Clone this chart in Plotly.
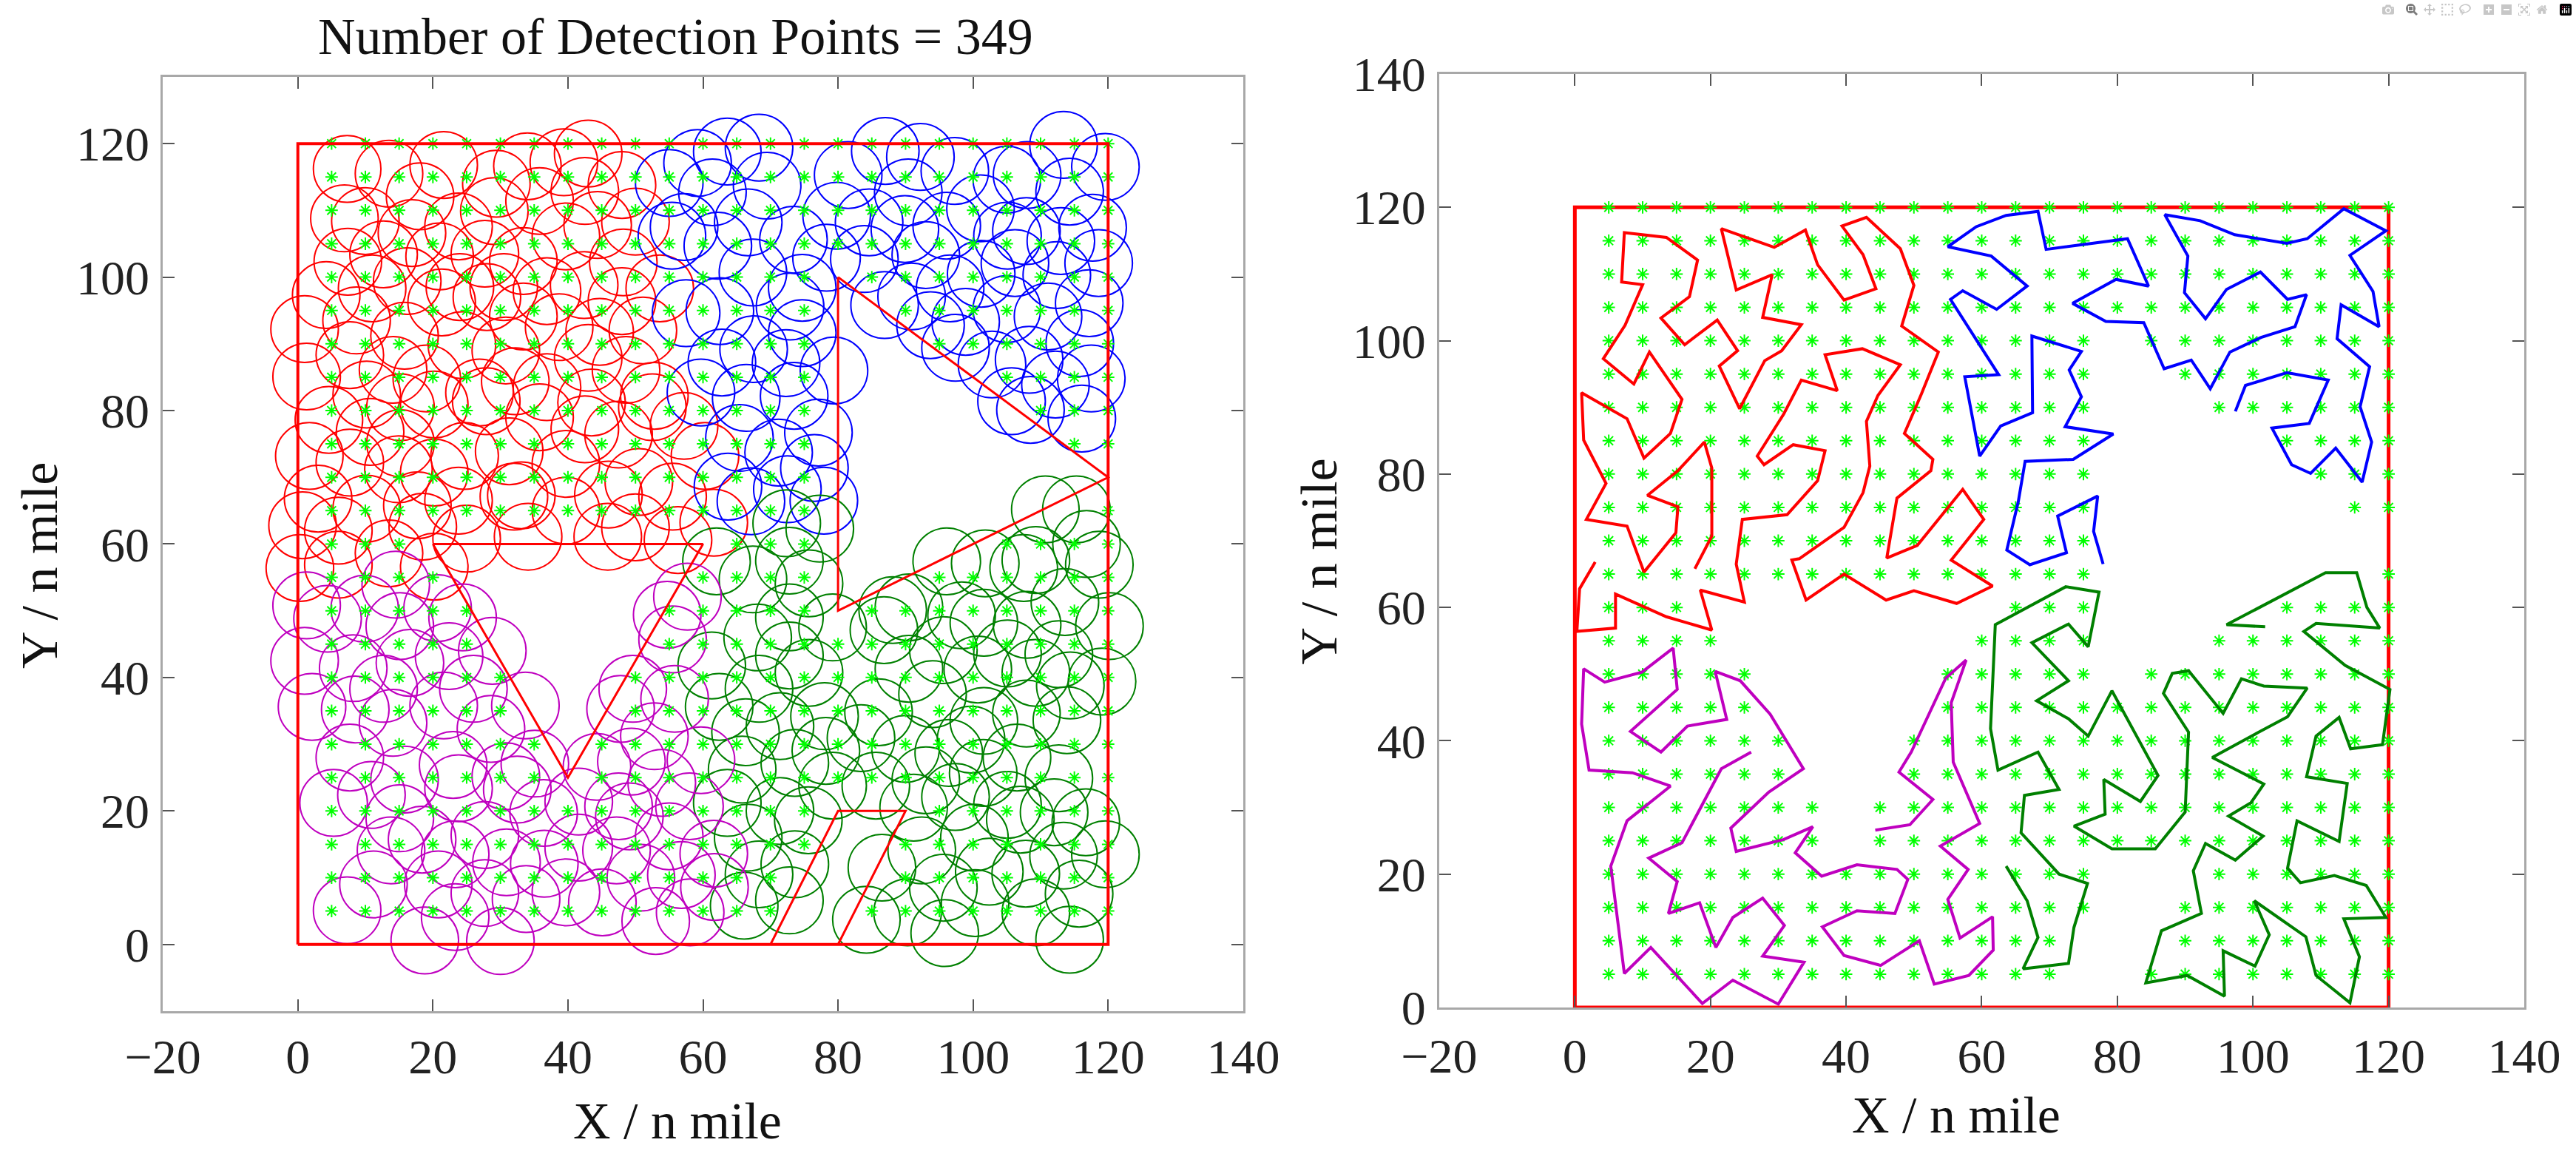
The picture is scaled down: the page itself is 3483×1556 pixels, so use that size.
import plotly.graph_objects as go

# Detection grid (5 n mile spacing) and the grid points that are absent in each row
grid_x = [5, 10, 15, 20, 25, 30, 35, 40, 45, 50, 55, 60,
          65, 70, 75, 80, 85, 90, 95, 100, 105, 110, 115, 120]
grid_y = [5, 10, 15, 20, 25, 30, 35, 40, 45, 50, 55, 60,
          65, 70, 75, 80, 85, 90, 95, 100, 105, 110, 115, 120]
missing_x = {
    5: [75, 80],
    10: [75, 80, 85],
    15: [80, 85],
    20: [80, 85, 90],
    25: [40],
    30: [40],
    35: [35, 40, 45],
    40: [35, 40, 45],
    45: [30, 35, 40, 45, 50],
    50: [30, 35, 40, 45, 50, 80],
    55: [25, 30, 35, 40, 45, 50, 55, 80, 85, 90],
    60: [20, 25, 30, 35, 40, 45, 50, 55, 60, 80, 85, 90, 95, 100],
    65: [80, 85, 90, 95, 100, 105, 110, 115],
    70: [80, 85, 90, 95, 100, 105, 110, 115, 120],
    75: [80, 85, 90, 95, 100, 105, 110],
    80: [80, 85, 90, 95, 100, 105],
    85: [80, 85, 90, 95, 100],
    90: [80, 85, 90],
    95: [80, 85],
    100: [80],
}

# Area boundary and obstacles
area_x = [0, 120, 120, 0, 0]
area_y = [0, 0, 120, 120, 0]
obst1_x = [20, 60, 40, 20]
obst1_y = [60, 60, 25, 60]
obst2_x = [80, 120, 80, 80]
obst2_y = [100, 70, 50, 100]
obst3_x = [70, 80, 90, 80]
obst3_y = [0, 20, 20, 0]

# Detection points visited by each searcher (x, y)
red_path = [
    (3.0, 66.8), (0.7, 62.8), (0.3, 56.4), (6.0, 56.9), (6.0, 62.0), (13.5, 58.6), (20.2, 56.6),
    (18.5, 62.6), (25.0, 60.8), (23.8, 66.5), (24.7, 73.2), (31.3, 73.9), (35.8, 79.0), (36.9, 83.5),
    (32.2, 84.4), (27.9, 81.4), (26.9, 82.7), (30.8, 89.0), (33.4, 94.1), (38.7, 92.5), (36.9, 97.9),
    (42.4, 98.8), (48.0, 96.4), (44.7, 91.8), (43.0, 87.9), (43.5, 81.2), (42.5, 77.2), (39.7, 72.0),
    (33.1, 67.3), (32.0, 67.1), (34.1, 61.1), (39.7, 65.0), (45.9, 61.1), (50.0, 62.5), (56.3, 60.6),
    (61.6, 63.2), (55.5, 67.1), (60.3, 73.2), (57.2, 77.7), (50.5, 69.3), (46.0, 67.4), (47.5, 76.4),
    (52.5, 80.5), (52.8, 82.2), (48.6, 86.1), (51.1, 92.0), (53.6, 98.3), (48.2, 102.2), (50.0, 108.3),
    (48.0, 113.8), (43.0, 118.5), (39.4, 117.2), (42.5, 112.9), (44.4, 107.8), (39.7, 106.1),
    (35.8, 111.4), (34.0, 116.6), (29.4, 114.0), (21.6, 116.8), (23.8, 107.6), (29.1, 109.9),
    (27.7, 103.5), (33.4, 102.4), (30.5, 98.5), (28.0, 97.0), (24.3, 89.8), (21.3, 96.2), (24.0, 98.5),
    (21.0, 103.1), (16.2, 99.4), (12.7, 103.4), (16.9, 106.6), (18.1, 112.1), (13.5, 115.5),
    (7.3, 116.2), (6.9, 108.8), (10.0, 108.4), (7.4, 102.3), (4.2, 97.3), (8.7, 93.5), (11.0, 98.3),
    (15.8, 91.2), (14.1, 86.1), (10.2, 82.4), (7.7, 88.3), (1.0, 92.2), (1.3, 85.1), (4.6, 78.6),
    (1.7, 73.2), (7.7, 72.2), (10.2, 65.3), (14.9, 71.2), (15.2, 75.1), (10.7, 76.8), (15.2, 80.5),
    (19.1, 84.8), (20.2, 80.9), (20.2, 70.7), (17.7, 65.8),
]
blue_path = [
    (77.9, 66.5), (76.5, 71.4), (77.1, 76.7), (71.2, 73.7), (72.5, 68.2), (67.1, 66.4), (63.7, 68.6),
    (65.4, 75.9), (66.4, 81.9), (73.5, 82.2), (79.4, 86.0), (72.3, 87.1), (74.7, 91.6), (72.9, 95.6),
    (74.7, 98.4), (67.4, 100.7), (67.5, 89.2), (62.8, 87.2), (59.7, 82.7), (57.5, 94.6), (62.5, 94.9),
    (55.4, 106.2), (57.2, 107.5), (62.2, 104.7), (66.7, 108.2), (61.4, 112.7), (55.0, 114.1),
    (59.2, 117.1), (63.6, 118.8), (68.3, 119.4), (69.5, 113.7), (81.5, 115.3), (84.6, 108.2),
    (79.8, 109.2), (73.4, 105.6), (78.3, 102.9), (83.9, 102.7), (86.9, 95.8), (90.9, 97.1),
    (93.7, 92.8), (96.6, 98.3), (101.2, 100.5), (106.2, 102.1), (107.9, 106.9), (105.1, 106.2),
    (101.1, 110.3), (96.1, 107.7), (93.0, 103.3), (89.9, 107.2), (90.4, 112.7), (87.0, 118.9),
    (92.2, 118.0), (97.3, 115.9), (105.0, 114.6), (108.0, 115.3), (113.4, 119.8), (119.6, 116.5),
    (114.3, 112.8), (117.7, 107.4), (118.6, 102.1), (113.0, 105.4), (112.4, 100.3), (117.2, 96.1),
    (115.8, 90.1), (117.5, 84.8), (116.1, 78.8), (112.2, 83.9), (108.5, 80.1), (105.7, 81.4),
    (102.8, 86.9), (108.3, 87.6), (111.1, 94.1), (105.0, 95.2), (98.9, 93.3), (97.4, 89.4),
]
green_path = [
    (63.6, 21.2), (66.7, 16.0), (68.3, 10.5), (66.1, 5.8), (72.8, 6.6), (73.6, 12.0), (75.6, 18.6),
    (71.4, 20.0), (65.8, 26.2), (66.3, 31.8), (71.4, 32.7), (68.3, 38.3), (62.4, 35.6), (61.3, 41.8),
    (62.0, 57.4), (72.4, 63.1), (77.3, 62.3), (75.7, 54.1), (72.8, 57.5), (67.4, 54.7), (72.8, 49.0),
    (68.1, 46.0), (72.8, 43.3), (75.7, 40.7), (79.2, 47.5), (86.0, 34.8), (83.4, 30.9), (78.0, 34.2),
    (78.2, 29.0), (73.6, 27.2), (79.2, 23.8), (85.6, 23.8), (90.0, 29.3), (90.5, 41.3), (86.8, 47.1),
    (88.1, 50.1), (90.5, 50.5), (95.6, 44.1), (98.3, 49.3), (101.6, 48.2), (108.0, 47.9),
    (105.1, 43.6), (100.7, 41.2), (94.0, 37.5), (101.6, 33.5), (99.7, 30.7), (96.4, 28.7),
    (101.5, 25.7), (97.4, 22.1), (93.0, 24.6), (91.2, 20.5), (92.4, 14.1), (86.5, 11.5), (84.2, 3.7),
    (90.3, 4.8), (95.8, 1.7), (95.6, 8.5), (100.3, 6.2), (102.4, 10.9), (100.2, 16.0), (107.8, 10.6),
    (109.3, 4.8), (114.3, 0.7), (115.7, 7.6), (113.4, 13.3), (119.6, 13.5), (116.7, 18.3),
    (112.0, 19.8), (107.0, 18.7), (105.1, 20.9), (106.5, 28.0), (112.7, 24.9), (113.9, 33.6),
    (107.9, 34.6), (109.3, 40.7), (112.7, 43.5), (114.4, 38.8), (119.1, 39.4), (120.2, 47.7),
    (113.6, 51.3), (107.5, 56.4), (109.3, 57.6), (118.7, 56.9), (116.8, 60.0), (115.3, 65.2),
    (110.7, 65.2), (96.1, 57.4), (101.8, 57.1),
]
magenta_path = [
    (26.0, 38.3), (21.6, 35.8), (15.8, 24.7), (10.9, 22.4), (15.1, 18.9), (13.8, 14.1), (18.4, 15.7),
    (20.8, 9.0), (23.3, 13.5), (27.7, 16.4), (30.9, 12.3), (27.7, 7.7), (33.8, 6.8), (30.0, 0.5),
    (23.3, 4.1), (18.8, 0.6), (11.2, 9.0), (7.3, 5.1), (5.3, 21.2), (7.7, 28.0), (14.1, 33.2),
    (8.5, 35.2), (2.1, 35.6), (1.0, 42.5), (1.3, 50.8), (4.4, 48.8), (9.9, 50.3), (14.5, 53.9),
    (15.1, 47.7), (8.2, 41.4), (12.7, 38.3), (16.6, 42.2), (22.4, 43.2), (20.7, 50.4), (24.4, 49.0),
    (28.8, 44.0), (33.7, 35.8), (28.6, 32.3), (23.0, 26.9), (23.8, 23.4), (30.8, 25.2), (35.1, 27.1),
    (32.5, 23.2), (36.4, 19.7), (41.6, 21.4), (47.5, 20.7), (49.1, 19.2), (47.2, 14.1), (41.6, 14.5),
    (36.5, 12.1), (39.7, 7.8), (45.1, 6.3), (50.8, 10.0), (53.0, 3.5), (58.1, 4.8), (61.7, 8.6),
    (61.6, 13.6), (56.8, 10.4), (55.0, 16.2), (58.0, 20.7), (53.9, 24.2), (59.7, 27.6), (55.8, 36.8),
    (55.5, 45.7), (57.7, 52.1), (54.7, 49.4), (49.6, 38.3), (47.8, 35.3), (52.8, 31.2), (49.4, 27.4),
    (44.3, 26.6),
]

x_ticks = [-20, 0, 20, 40, 60, 80, 100, 120, 140]
y_ticks_left = [0, 20, 40, 60, 80, 100, 120]
y_ticks_right = [0, 20, 40, 60, 80, 100, 120, 140]

SENSOR_RADIUS = 5
FONT = "Liberation Serif, Times New Roman, serif"

paths = [
    (red_path, "#ff0000"),
    (blue_path, "#0000ff"),
    (green_path, "#008000"),
    (magenta_path, "#bf00bf"),
]

# detection grid points kept after removing the obstacle cells
det_x, det_y = [], []
for gy in grid_y:
    for gx in grid_x:
        if gx not in missing_x.get(gy, []):
            det_x.append(gx)
            det_y.append(gy)

fig = go.Figure()

star = dict(symbol="asterisk-open", size=14, color="#00ff00",
            line=dict(color="#00ff00", width=2))

# ---------- left: coverage circles ----------
shapes = []
for pts, col in paths:
    for cx, cy in pts:
        shapes.append(dict(type="circle", xref="x", yref="y", layer="below",
                           x0=cx - SENSOR_RADIUS, x1=cx + SENSOR_RADIUS,
                           y0=cy - SENSOR_RADIUS, y1=cy + SENSOR_RADIUS,
                           line=dict(color=col, width=2)))

fig.add_trace(go.Scatter(x=det_x, y=det_y, mode="markers", marker=star,
                         xaxis="x", yaxis="y", hoverinfo="skip"))
fig.add_trace(go.Scatter(x=area_x, y=area_y, mode="lines", xaxis="x", yaxis="y",
                         line=dict(color="#ff0000", width=4)))
for ox, oy in [(obst1_x, obst1_y), (obst2_x, obst2_y), (obst3_x, obst3_y)]:
    fig.add_trace(go.Scatter(x=ox, y=oy, mode="lines", xaxis="x", yaxis="y",
                             line=dict(color="#ff0000", width=3)))

# ---------- right: search paths ----------
fig.add_trace(go.Scatter(x=area_x, y=area_y, mode="lines", xaxis="x2", yaxis="y2",
                         line=dict(color="#ff0000", width=5)))
fig.add_trace(go.Scatter(x=det_x, y=det_y, mode="markers", marker=star,
                         xaxis="x2", yaxis="y2", hoverinfo="skip"))
for pts, col in paths:
    fig.add_trace(go.Scatter(x=[p[0] for p in pts], y=[p[1] for p in pts], mode="lines",
                             xaxis="x2", yaxis="y2", line=dict(color=col, width=4)))

axis_style = dict(showgrid=False, zeroline=False, showline=True, mirror="ticks",
                  linecolor="#a8a8a8", linewidth=3, ticks="inside", ticklen=16,
                  tickwidth=2, tickcolor="#555555", automargin=False,
                  tickfont=dict(family=FONT, size=66, color="#222222"))


def label(text, x, y, angle=0):
    return dict(text=text, x=x, y=y, xref="paper", yref="paper",
                xanchor="center", yanchor="middle", textangle=angle,
                showarrow=False, font=dict(family=FONT, size=70, color="#111111"))


fig.update_layout(
    width=3483, height=1556,
    margin=dict(l=0, r=0, t=0, b=0, pad=0, autoexpand=False),
    showlegend=False,
    plot_bgcolor="white", paper_bgcolor="white",
    shapes=shapes,
    xaxis=dict(domain=[0.0632, 0.4826], range=[-20, 140], tickvals=x_ticks,
               anchor="y", ticklabelstandoff=2, **axis_style),
    yaxis=dict(domain=[0.1215, 0.9332], range=[-10, 130], tickvals=y_ticks_left,
               anchor="x", ticklabelstandoff=2, **axis_style),
    xaxis2=dict(domain=[0.5587, 0.9799], range=[-20, 140], tickvals=x_ticks,
                anchor="y2", ticklabelstandoff=6, **axis_style),
    yaxis2=dict(domain=[0.1247, 0.9357], range=[0, 140], tickvals=y_ticks_right,
                anchor="x2", ticklabelstandoff=2, **axis_style),
    annotations=[
        label("Number of Detection Points = 349", 0.2624, 0.968),
        label("X / n mile", 0.263, 0.026),
        label("X / n mile", 0.7594, 0.031),
        label("Y / n mile", 0.0155, 0.509, -90),
        label("Y / n mile", 0.512, 0.512, -90),
    ],
)

fig.write_html("out.html", post_script="document.body.style.margin='0';")
